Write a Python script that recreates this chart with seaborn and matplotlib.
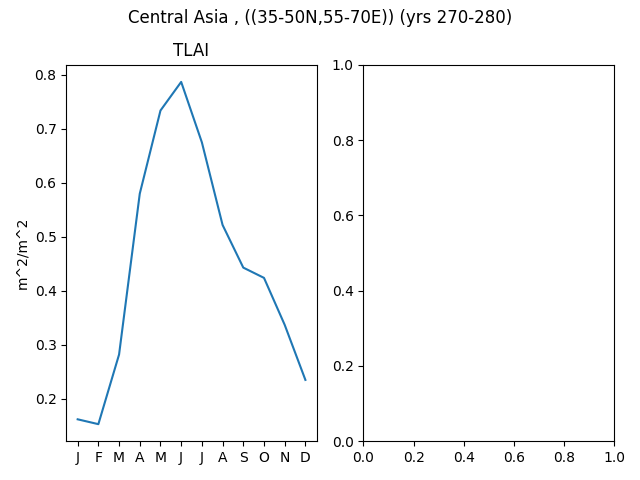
import matplotlib
matplotlib.use('Agg')
import matplotlib.pyplot as plt
import seaborn as sns
import pandas as pd

# monthly TLAI values
months = ['J', 'F', 'M', 'A', 'M', 'J', 'J', 'A', 'S', 'O', 'N', 'D']
tlai = [0.162, 0.153, 0.282, 0.580, 0.734, 0.787, 0.675, 0.522, 0.443, 0.424, 0.337, 0.235]

df = pd.DataFrame({'month': range(len(months)), 'tlai': tlai})

fig, axes = plt.subplots(1, 2, figsize=(6.4, 4.8))
sns.lineplot(data=df, x='month', y='tlai', ax=axes[0])
axes[0].set_xticks(range(len(months)))
axes[0].set_xticklabels(months)
axes[0].set_title('TLAI')
axes[0].set_xlabel('')
axes[0].set_ylabel('m^2/m^2')

fig.suptitle('Central Asia , ((35-50N,55-70E)) (yrs 270-280)', y=0.982)
fig.tight_layout()
fig.subplots_adjust(top=0.865)
fig.savefig('out.png', dpi=100)
